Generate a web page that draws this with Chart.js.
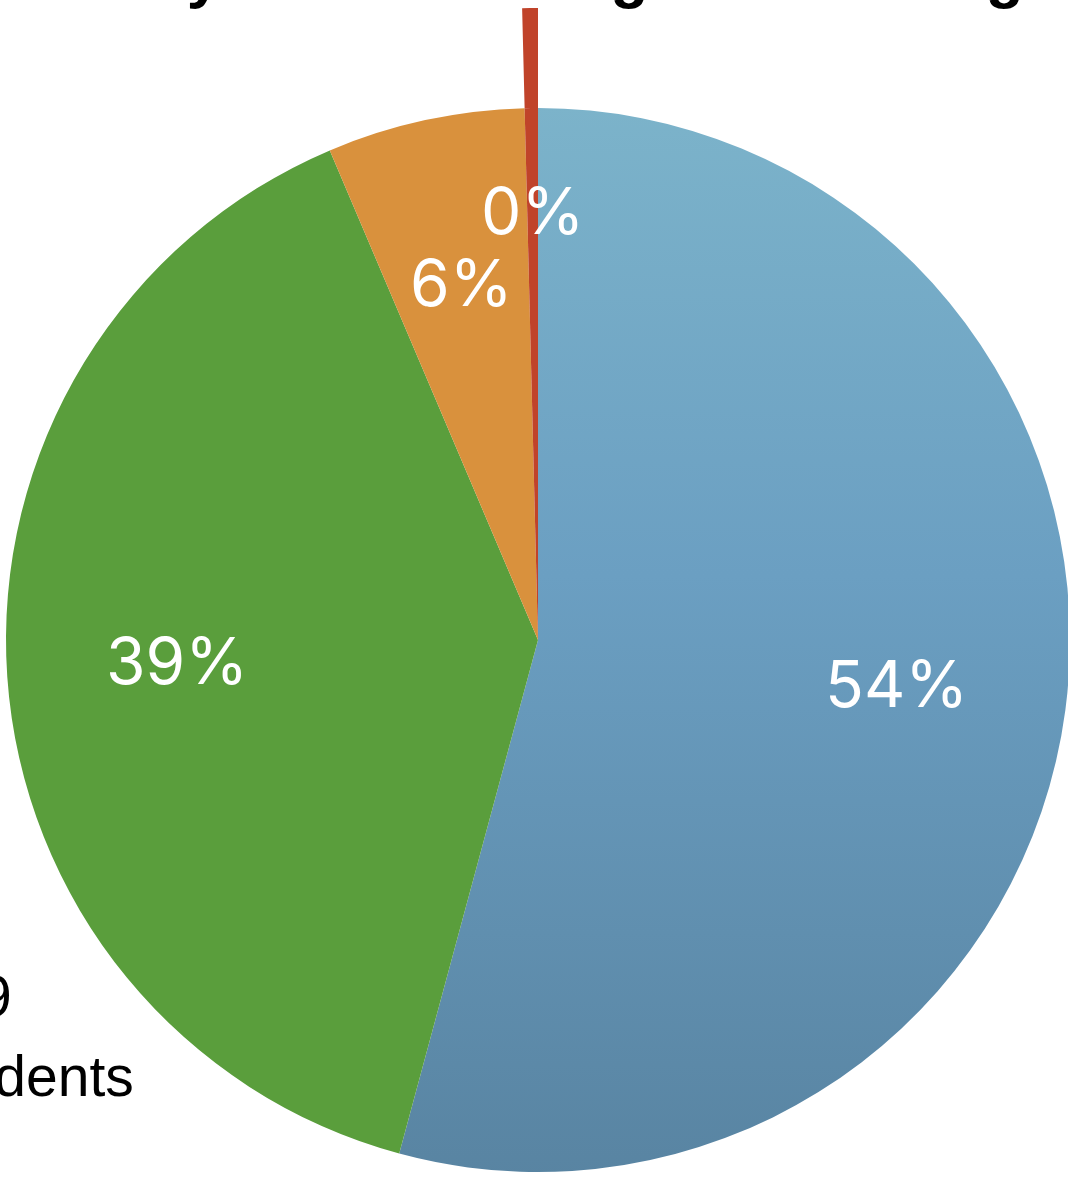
<!DOCTYPE html>
<html lang="en">
  <head>
    <meta charset="UTF-8" />
    <meta name="viewport" content="width=device-width, initial-scale=1.0" />
    <title>Pie</title>
    <script src="https://cdn.jsdelivr.net/npm/chart.js@4"></script>
    <style>
      html, body { margin: 0; padding: 0; width: 1068px; height: 1178px; overflow: hidden; background: #fff;
                   font-family: "Liberation Sans", Arial, sans-serif; }
      /* the picture is a crop, so title and note run off the page */
      #title { position: absolute; left: -305px; top: -56px; font-size: 62px; font-weight: bold;
               line-height: 62px; white-space: nowrap; color: #000; }
      #note { position: absolute; left: -180px; top: 956px; font-size: 57px; line-height: 80px;
              white-space: nowrap; color: #000; }
      #wrap { position: absolute; left: -112px; top: -10px; width: 1300px; height: 1300px; }
    </style>
  </head>
  <body>
    <div id="title">Time used weekly for all reading done during class</div>
    <div id="note">n = 219<br>respondents</div>
    <div id="wrap"><canvas id="myChart" width="1300" height="1300"></canvas></div>
  </body>
</html>

<script>
  // slice data, clockwise from 12 o'clock
  const categories = ['Often', 'Sometimes', 'Rarely', 'Never'];
  const shares = [54.2, 39.4, 6.0, 0.4];
  const sliceColors = ['#6a9dbf', '#5a9e3c', '#d9913d', '#c0432a'];
  const sticksOut = [false, false, false, true]; // the red sliver pokes out of the pie

  const pieRadius = 532;
  const stickLength = 100;

  function blueFill(chart) {
    const area = chart.chartArea;
    if (!area) return sliceColors[0];
    const g = chart.ctx.createLinearGradient(0, area.top, 0, area.bottom);
    g.addColorStop(0, '#80b8cc');
    g.addColorStop(0.45, '#6b9fc2');
    g.addColorStop(1, '#557f9c');
    return g;
  }

  const sliceLabels = {
    id: 'sliceLabels',
    afterDatasetsDraw(chart) {
      const meta = chart.getDatasetMeta(1);
      const ctx = chart.ctx;
      const total = shares.reduce((a, b) => a + b, 0);
      ctx.save();
      ctx.fillStyle = '#fff';
      ctx.font = '64px Inter, Roboto, sans-serif';
      ctx.textAlign = 'center';
      ctx.textBaseline = 'middle';
      meta.data.forEach(function (arc, i) {
        const p = arc.getProps(['x', 'y', 'startAngle', 'endAngle', 'outerRadius'], true);
        const mid = (p.startAngle + p.endAngle) / 2;
        const frac = shares[i] < 2 ? 0.8 : 0.68; // tiny slice gets its label further out
        ctx.fillText(Math.round(shares[i] / total * 100) + '%',
          p.x + Math.cos(mid) * p.outerRadius * frac,
          p.y + Math.sin(mid) * p.outerRadius * frac);
      });
      ctx.restore();
    }
  };

  const ctx = document.getElementById('myChart').getContext('2d');
  const myChart = new Chart(ctx, {
    type: 'doughnut',
    data: {
      labels: categories,
      datasets: [
        { // outer ring: only the sticking-out slice is visible
          data: shares,
          weight: stickLength,
          backgroundColor: sliceColors.map((c, i) => sticksOut[i] ? c : 'rgba(0,0,0,0)'),
          borderWidth: 0
        },
        {
          data: shares,
          weight: pieRadius,
          backgroundColor: function (c) {
            return c.dataIndex === 0 ? blueFill(c.chart) : sliceColors[c.dataIndex];
          },
          borderWidth: 0
        }
      ]
    },
    options: {
      responsive: false,
      animation: false,
      events: [],
      cutout: 0,
      radius: pieRadius + stickLength,
      layout: { padding: 0 },
      plugins: {
        legend: { display: false },
        tooltip: { enabled: false }
      }
    },
    plugins: [sliceLabels]
  });
</script>
